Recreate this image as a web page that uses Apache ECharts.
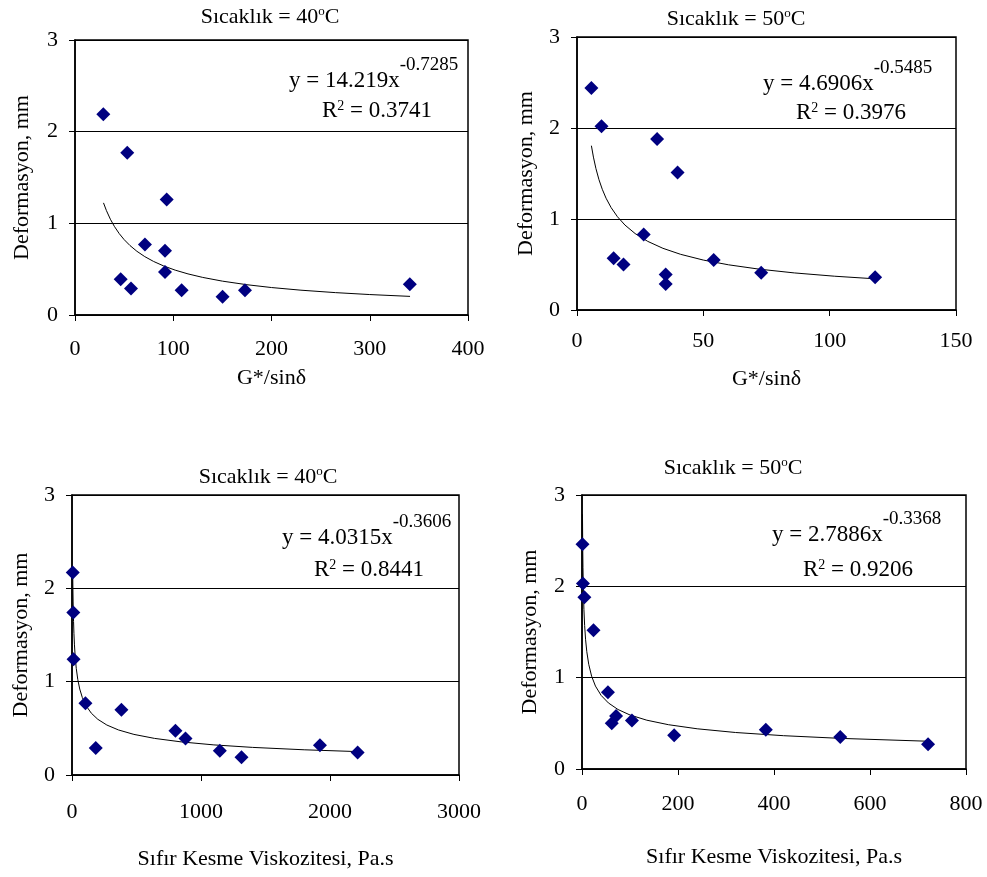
<!DOCTYPE html>
<html>
<head>
<meta charset="utf-8">
<script src="https://cdn.jsdelivr.net/npm/echarts@6/dist/echarts.min.js"></script>
<style>
html,body{margin:0;padding:0;background:#fff;}
#c{width:987px;height:877px;}
</style>
</head>
<body>
<div id="c"></div>
<script>
// ---- data ----
const yTicks = ['0', '1', '2', '3'];
const xTicks1 = ['0', '100', '200', '300', '400'];
const xTicks2 = ['0', '50', '100', '150'];
const xTicks3 = ['0', '1000', '2000', '3000'];
const xTicks4 = ['0', '200', '400', '600', '800'];

const titles = ['Sıcaklık = 40', 'Sıcaklık = 50', 'Sıcaklık = 40', 'Sıcaklık = 50'];
const xNames = ['G*/sinδ', 'G*/sinδ', 'Sıfır Kesme Viskozitesi, Pa.s', 'Sıfır Kesme Viskozitesi, Pa.s'];
const yName = 'Deformasyon, mm';
const eqCoef = ['14.219', '4.6906', '4.0315', '2.7886'];
const eqExp = ['-0.7285', '-0.5485', '-0.3606', '-0.3368'];
const eqR2 = ['0.3741', '0.3976', '0.8441', '0.9206'];

// measured points
const p1X = [28.8, 53.2, 93.3, 71.2, 91.6, 91.6, 46.5, 57, 108.5, 150.2, 173, 340.8];
const p1Y = [2.19, 1.77, 1.26, 0.77, 0.70, 0.47, 0.39, 0.29, 0.27, 0.20, 0.27, 0.335];
const p2X = [5.7, 9.7, 31.7, 39.8, 26.4, 14.5, 18.4, 35.1, 35.1, 54.1, 72.9, 118];
const p2Y = [2.44, 2.02, 1.88, 1.51, 0.83, 0.57, 0.50, 0.39, 0.285, 0.55, 0.41, 0.36];
const p3X = [6, 10, 12, 104, 383, 184, 802, 880, 1146, 1314, 1922, 2214];
const p3Y = [2.17, 1.74, 1.24, 0.77, 0.70, 0.29, 0.475, 0.39, 0.26, 0.19, 0.32, 0.24];
const p4X = [1, 2, 5, 24, 54, 62, 71, 104, 192, 383, 538, 721];
const p4Y = [2.46, 2.03, 1.88, 1.52, 0.84, 0.50, 0.58, 0.53, 0.37, 0.43, 0.35, 0.27];

// trend-line points (values of the printed power-law fits)
const t1X = [29, 32, 36, 40, 45, 50, 56, 63, 71, 80, 90, 102, 115, 130, 150, 175, 200, 230, 265, 300, 341];
const t1Y = [1.2232, 1.1386, 1.0450, 0.9678, 0.8882, 0.8226, 0.7574, 0.6951, 0.6371, 0.5841, 0.5361, 0.4893, 0.4484, 0.4101, 0.3695, 0.3302, 0.2996, 0.2706, 0.2441, 0.2230, 0.2031];
const t2X = [5.7, 6.5, 7.5, 8.7, 10, 11.5, 13.5, 16, 19, 23, 28, 34, 41, 50, 60, 72, 86, 102, 118];
const t2Y = [1.8056, 1.6801, 1.5533, 1.4318, 1.3266, 1.2287, 1.1252, 1.0251, 0.9329, 0.8401, 0.7542, 0.6780, 0.6118, 0.5487, 0.4965, 0.4492, 0.4075, 0.3711, 0.3426];
const t3X = [6, 7, 8.5, 10, 12, 15, 19, 25, 33, 45, 60, 80, 110, 150, 200, 270, 360, 480, 640, 850, 1100, 1400, 1800, 2214];
const t3Y = [2.1128, 1.9986, 1.8635, 1.7574, 1.6456, 1.5183, 1.3943, 1.2629, 1.1426, 1.0217, 0.9210, 0.8303, 0.7402, 0.6619, 0.5967, 0.5354, 0.4827, 0.4351, 0.3922, 0.3541, 0.3226, 0.2958, 0.2702, 0.2507];
const t4X = [1, 1.5, 2, 3, 4, 5.5, 7.5, 10, 14, 20, 28, 40, 55, 75, 100, 135, 180, 240, 320, 420, 540, 721];
const t4Y = [2.7886, 2.4326, 2.2080, 1.9262, 1.7483, 1.5705, 1.4147, 1.2841, 1.1465, 1.0167, 0.9078, 0.8050, 0.7232, 0.6514, 0.5913, 0.5344, 0.4851, 0.4403, 0.3996, 0.3646, 0.3350, 0.3040];

// ---- build ----
const FONT = 'Liberation Serif';
const zip = (a, b) => a.map((v, i) => [v, b[i]]);
const pts = [zip(p1X, p1Y), zip(p2X, p2Y), zip(p3X, p3Y), zip(p4X, p4Y)];
const trends = [zip(t1X, t1Y), zip(t2X, t2Y), zip(t3X, t3Y), zip(t4X, t4Y)];
const xTickSets = [xTicks1, xTicks2, xTicks3, xTicks4];

const grids = [
  {left: 75, top: 40, width: 393, height: 275},
  {left: 577, top: 37, width: 379, height: 273},
  {left: 72, top: 495, width: 387, height: 280},
  {left: 582, top: 495, width: 384, height: 274}
];
const xNameGaps = [52, 58, 73, 77];
const xLabelMargins = [23, 20, 26, 24];
const yNameGaps = [42, 40, 40, 41];

const grid = grids.map(g => Object.assign({show: true, borderColor: '#000', borderWidth: 1.5, containLabel: false}, g));

const xAxis = xTickSets.map((ticks, i) => ({
  type: 'value', gridIndex: i,
  min: Number(ticks[0]), max: Number(ticks[ticks.length - 1]),
  interval: Number(ticks[1]) - Number(ticks[0]),
  name: xNames[i], nameLocation: 'middle', nameGap: xNameGaps[i],
  nameTextStyle: {fontFamily: FONT, fontSize: 22, color: '#000'},
  axisLine: {onZero: false, lineStyle: {color: '#000', width: 1.5}},
  axisTick: {show: true, length: 6, lineStyle: {color: '#000', width: 1}},
  axisLabel: {color: '#000', fontFamily: FONT, fontSize: 22, margin: xLabelMargins[i],
    formatter: v => { const k = ticks.indexOf(String(v)); return k >= 0 ? ticks[k] : ''; }},
  splitLine: {show: false}
}));

const yAxis = grids.map((g, i) => ({
  type: 'value', gridIndex: i, min: 0, max: 3, interval: 1,
  name: yName, nameLocation: 'middle', nameGap: yNameGaps[i], nameRotate: 90,
  nameTextStyle: {fontFamily: FONT, fontSize: 22, color: '#000'},
  axisLine: {onZero: false, lineStyle: {color: '#000', width: 1.5}},
  axisTick: {show: true, length: 6, lineStyle: {color: '#000', width: 1}},
  axisLabel: {color: '#000', fontFamily: FONT, fontSize: 22, margin: 17,
    formatter: v => yTicks[v] || ''},
  splitLine: {show: true, lineStyle: {color: '#000', width: 1}}
}));

const series = [];
pts.forEach((d, i) => {
  series.push({
    type: 'line', xAxisIndex: i, yAxisIndex: i, data: trends[i],
    showSymbol: false, smooth: false,
    lineStyle: {color: '#000', width: 1}, z: 2, silent: true
  });
  series.push({
    type: 'scatter', xAxisIndex: i, yAxisIndex: i, data: d,
    symbol: 'path://M0,-1L1,0L0,1L-1,0Z', symbolSize: [14, 14],
    itemStyle: {color: '#000080', opacity: 1}, z: 3
  });
});

// text measurement for superscript placement
const ctx = document.createElement('canvas').getContext('2d');
const tw = (s, size) => { ctx.font = size + 'px "' + FONT + '"'; return ctx.measureText(s).width; };
const txt = (s, x, y, size, align) => ({
  type: 'text', x: x, y: y, z: 10,
  style: {text: s, fontFamily: FONT, fontSize: size, fill: '#000', align: align || 'left', verticalAlign: 'middle'}
});

const T = 22, TS = 13;        // title / its superscript
const E = 23, ES = 19;        // equation / exponent
const RS = 14;                // R^2 superscript
const titlePos = [[270, 17], [736, 19], [268, 477], [733, 468]];
const eqPos = [[289, 81], [763, 84], [282, 538], [772, 535]];
const r2Pos = [[322, 111], [796, 113], [314, 570], [803, 570]];

const graphic = [];
titles.forEach((t, i) => {
  const w1 = tw(t, T), wo = tw('o', TS), wc = tw('C', T);
  let x = titlePos[i][0] - (w1 + wo + wc) / 2, y = titlePos[i][1];
  graphic.push(txt(t, x, y, T));
  graphic.push(txt('o', x + w1, y - 5, TS));
  graphic.push(txt('C', x + w1 + wo, y, T));

  const main = 'y = ' + eqCoef[i] + 'x';
  const ex = eqPos[i][0], ey = eqPos[i][1];
  graphic.push(txt(main, ex, ey, E));
  graphic.push(txt(eqExp[i], ex + tw(main, E), ey - 16, ES));

  const rx = r2Pos[i][0], ry = r2Pos[i][1];
  const wR = tw('R', E), w2 = tw('2', RS);
  graphic.push(txt('R', rx, ry, E));
  graphic.push(txt('2', rx + wR, ry - 5, RS));
  graphic.push(txt(' = ' + eqR2[i], rx + wR + w2, ry, E));
});

const chart = echarts.init(document.getElementById('c'), null, {renderer: 'canvas'});
chart.setOption({
  animation: false,
  backgroundColor: '#fff',
  grid: grid, xAxis: xAxis, yAxis: yAxis, series: series, graphic: graphic
});
</script>
</body>
</html>
